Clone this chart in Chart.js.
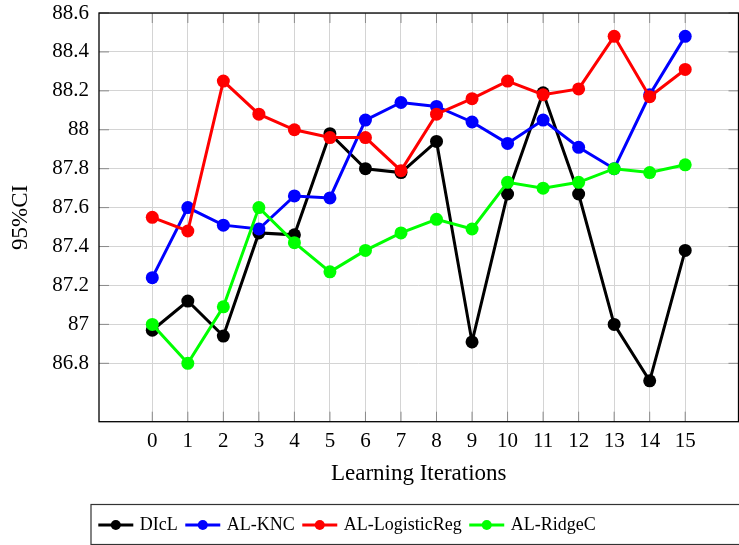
<!DOCTYPE html>
<html><head><meta charset="utf-8">
<script src="https://cdn.jsdelivr.net/npm/chart.js@4/dist/chart.umd.min.js"></script>
<style>
html,body{margin:0;padding:0;overflow:hidden;background:#fff;width:739px;height:545px}
#wrap{position:relative;width:745px;height:545px}
canvas{display:block}
</style>
</head><body><div id="wrap"><canvas id="c" width="745" height="545"></canvas></div>
<script>
const iterations = [0,1,2,3,4,5,6,7,8,9,10,11,12,13,14,15];
const dicl     = [86.97,87.12,86.94,87.47,87.46,87.98,87.80,87.78,87.94,86.91,87.67,88.19,87.67,87.00,86.71,87.38];
const alKnc    = [87.24,87.60,87.51,87.49,87.66,87.65,88.05,88.14,88.12,88.04,87.93,88.05,87.91,87.80,88.18,88.48];
const alLogReg = [87.55,87.48,88.25,88.08,88.00,87.96,87.96,87.79,88.08,88.16,88.25,88.18,88.21,88.48,88.17,88.31];
const alRidge  = [87.00,86.80,87.09,87.60,87.42,87.27,87.38,87.47,87.54,87.49,87.73,87.70,87.73,87.80,87.78,87.82];
const yTicks = [86.8,87,87.2,87.4,87.6,87.8,88,88.2,88.4,88.6];
const seriesNames = ['DIcL','AL-KNC','AL-LogisticReg','AL-RidgeC'];
const seriesColors = ['#000000','#0000ff','#ff0000','#00ff00'];
const seriesValues = [dicl, alKnc, alLogReg, alRidge];

const FONT = '"Liberation Serif", "Times New Roman", serif';

const datasets = seriesValues.map((vals, i) => ({
  label: seriesNames[i],
  data: iterations.map((x, j) => ({x: x, y: vals[j]})),
  borderColor: seriesColors[i],
  backgroundColor: seriesColors[i],
  pointBackgroundColor: seriesColors[i],
  pointBorderColor: seriesColors[i],
  borderWidth: 3,
  pointRadius: 6.5,
  pointBorderWidth: 0,
  tension: 0,
  order: 4 - i
}));

const framePlugin = {
  id: 'frame',
  beforeDatasetsDraw(chart) {
    const {ctx, chartArea: a, scales: {x, y}} = chart;
    ctx.save();
    ctx.strokeStyle = '#8a8a8a';
    ctx.lineWidth = 1;
    ctx.beginPath();
    iterations.forEach(v => {
      const px = x.getPixelForValue(v);
      ctx.moveTo(px, a.top); ctx.lineTo(px, a.top + 10);
      ctx.moveTo(px, a.bottom); ctx.lineTo(px, a.bottom - 10);
    });
    yTicks.forEach(v => {
      const py = y.getPixelForValue(v);
      ctx.moveTo(a.left, py); ctx.lineTo(a.left + 10, py);
      ctx.moveTo(a.right, py); ctx.lineTo(a.right - 10, py);
    });
    ctx.stroke();
    ctx.strokeStyle = '#000';
    ctx.lineWidth = 1.3;
    ctx.strokeRect(a.left, a.top, a.right - a.left, a.bottom - a.top);
    ctx.restore();
  },
  afterDraw(chart) {
    const ctx = chart.ctx;
    ctx.save();
    const boxX = 91, boxY = 504.5, boxH = 40;
    ctx.strokeStyle = '#333';
    ctx.lineWidth = 1.2;
    ctx.strokeRect(boxX, boxY, 700, boxH);
    ctx.font = '18px ' + FONT;
    ctx.textBaseline = 'middle';
    let cx = 98.3;
    const cy = boxY + boxH / 2 + 0.5;
    seriesNames.forEach((name, i) => {
      ctx.strokeStyle = seriesColors[i];
      ctx.fillStyle = seriesColors[i];
      ctx.lineWidth = 3;
      ctx.beginPath(); ctx.moveTo(cx, cy); ctx.lineTo(cx + 35, cy); ctx.stroke();
      ctx.beginPath(); ctx.arc(cx + 17.5, cy, 5, 0, Math.PI * 2); ctx.fill();
      cx += 35 + 6.5;
      ctx.fillStyle = '#000';
      ctx.fillText(name, cx, cy);
      cx += ctx.measureText(name).width + 7.5;
    });
    ctx.restore();
  }
};

new Chart(document.getElementById('c'), {
  type: 'line',
  data: { datasets },
  plugins: [framePlugin],
  options: {
    responsive: false,
    animation: false,
    devicePixelRatio: 1,
    layout: { padding: { top: 13, left: 0, right: 0, bottom: 0 } },
    plugins: { legend: { display: false }, tooltip: { enabled: false } },
    scales: {
      x: {
        type: 'linear',
        min: -1.5, max: 16.5,
        afterBuildTicks: s => { s.ticks = iterations.map(v => ({value: v})); },
        afterFit: s => { s.height = 123.3; s.paddingLeft = 0; s.paddingRight = 0; },
        grid: { color: '#d4d4d4', lineWidth: 1, drawTicks: false },
        border: { display: false },
        ticks: { color: '#000', padding: 7, font: { family: FONT, size: 21 }, callback: v => String(v), maxRotation: 0 },
        title: { display: true, text: 'Learning Iterations', color: '#000', font: { family: FONT, size: 23 }, padding: { top: 0, bottom: 57 } }
      },
      y: {
        type: 'linear',
        min: 86.5, max: 88.6,
        afterBuildTicks: s => { s.ticks = yTicks.map(v => ({value: v})); },
        afterFit: s => { s.width = 99; s.paddingTop = 0; s.paddingBottom = 0; },
        grid: { color: '#d4d4d4', lineWidth: 1, drawTicks: false },
        border: { display: false },
        ticks: { color: '#000', padding: 10, font: { family: FONT, size: 21 }, callback: v => String(Number(v.toFixed(1))) },
        title: { display: true, text: '95%CI', color: '#000', font: { family: FONT, size: 23 }, padding: { top: 7, bottom: 0 } }
      }
    }
  }
});
</script>
</body></html>
